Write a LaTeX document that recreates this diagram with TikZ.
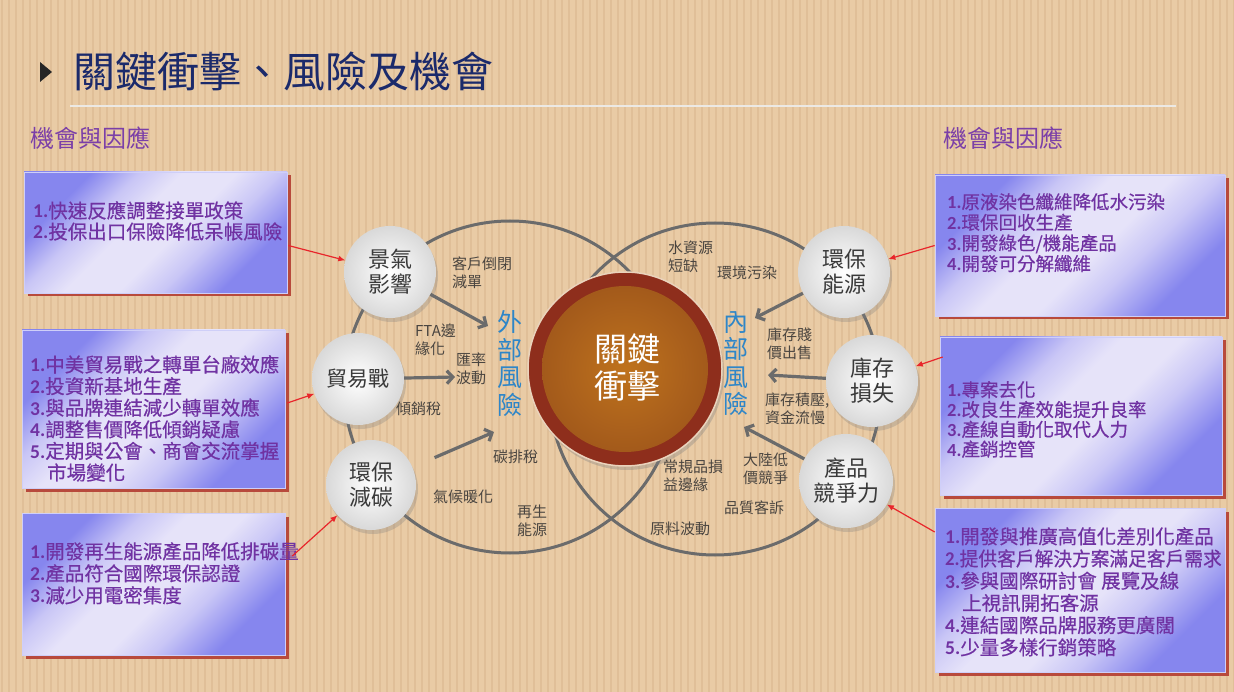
\documentclass[tikz,border=0pt]{standalone}
\usepackage{fontspec}
\setmainfont{Noto Sans CJK TC}
\newfontfamily\numfont{Carlito}
\newfontfamily\boxfont[FakeBold=0.5]{Noto Sans CJK TC}
\usetikzlibrary{arrows.meta,shadows,calc}
\definecolor{bgtan}{HTML}{E9CBA5}
\definecolor{stripe}{HTML}{D4AF86}
\definecolor{titleblue}{HTML}{1B2A6B}
\definecolor{purp}{HTML}{7032A2}
\definecolor{purplab}{HTML}{7B3FA8}
\definecolor{boxblue}{HTML}{8686EE}
\definecolor{boxpale}{HTML}{E6E3F9}
\definecolor{boxmid}{HTML}{C9C6F6}
\definecolor{boxshadow}{HTML}{B84A3C}
\definecolor{ringred}{HTML}{8E2E1C}
\definecolor{ringedge}{HTML}{EAD3BC}
\definecolor{coreorange}{HTML}{B9661F}
\definecolor{riskblue}{HTML}{2E86C8}
\definecolor{labgray}{HTML}{4A4540}
\definecolor{arrgray}{HTML}{6B6B6B}
\definecolor{redarr}{HTML}{E8262B}
\definecolor{nodetext}{HTML}{3A3A3A}
\definecolor{rulecol}{HTML}{ECE9E4}
\pgfdeclareverticalshading{boxshade}{100bp}{color(0bp)=(boxblue); color(27bp)=(boxblue); color(38bp)=(boxmid); color(46bp)=(boxpale); color(56bp)=(boxpale); color(64bp)=(boxmid); color(73bp)=(boxblue); color(100bp)=(boxblue)}
\newcommand\nmb[1]{{\numfont\bfseries #1}}
\begin{document}
\begin{tikzpicture}[x=1pt,y=-1pt,
  oppbox/.style={rectangle, inner sep=0, draw=white!60!boxblue, line width=0.6pt,
    shading=boxshade, shading angle=45,
    drop shadow={fill=boxshadow, opacity=1, shadow xshift=3.5pt, shadow yshift=-3.5pt}},
  boxtxt/.style={anchor=north west, inner sep=0, align=left, text=purp},
  riskcirc/.style={circle, minimum size=92pt, inner sep=0, inner color=white, outer color=black!15,
    drop shadow={opacity=0.3, shadow xshift=2pt, shadow yshift=-4pt},
    font=\fontsize{22}{25}\selectfont, text=nodetext, align=center},
  venn/.style={circle, draw=arrgray, line width=3pt, minimum size=332pt, inner sep=0},
  lab/.style={anchor=west, inner sep=0, align=left, text=labgray, font=\fontsize{15}{18}\selectfont},
  risk/.style={inner sep=0, align=center, text=riskblue, font=\fontsize{25}{27.5}\selectfont},
  grayarr/.style={draw=arrgray, line width=3.2pt, -{Straight Barb[length=6pt,width=13pt]}},
  redarrow/.style={draw=redarr, line width=1.2pt, -{Latex[length=7pt,width=6pt]}}
]
\useasboundingbox (0,0) rectangle (1234,692);
% background
\fill[bgtan] (0,0) rectangle (1234,692);
\foreach \i in {0,...,176} \draw[stripe, line width=2pt, opacity=0.4] ({\i*7+2},0) -- ({\i*7+2},692);
% title
\fill[black!85] (40,62) -- (52,72) -- (40,82) -- cycle;
\node[anchor=west, inner sep=0, text=titleblue, font=\fontsize{42}{46}\selectfont] (title) at (73,72) {關鍵衝擊、風險及機會};
\draw[rulecol, line width=2pt] (70,106) -- (1176,106);
\node[anchor=west, inner sep=0, text=purplab, font=\fontsize{24}{26}\selectfont] (ohL) at (30,138) {機會與因應};
\node[anchor=west, inner sep=0, text=purplab, font=\fontsize{24}{26}\selectfont] (ohR) at (943,138) {機會與因應};
% boxes
\node[oppbox, minimum width=263pt, minimum height=121pt] (b1) at (155.5,232.5) {};
\node[oppbox, minimum width=263pt, minimum height=158pt] (b2) at (153.5,409) {};
\node[oppbox, minimum width=263pt, minimum height=142pt] (b3) at (153.5,584) {};
\node[oppbox, minimum width=290pt, minimum height=141pt] (b4) at (1080,245.5) {};
\node[oppbox, minimum width=282pt, minimum height=158pt] (b5) at (1081,416) {};
\node[oppbox, minimum width=290pt, minimum height=164pt] (b6) at (1080,590) {};
\node[boxtxt, font=\boxfont\fontsize{19.5}{21}\selectfont] (t1) at (33,201) {\nmb{1.}快速反應調整接單政策\\\nmb{2.}投保出口保險降低呆帳風險};
\node[boxtxt, font=\boxfont\fontsize{19.5}{21.6}\selectfont] (t2) at (30,355) {\nmb{1.}中美貿易戰之轉單台廠效應\\\nmb{2.}投資新基地生產\\\nmb{3.}與品牌連結減少轉單效應\\\nmb{4.}調整售價降低傾銷疑慮\\\nmb{5.}定期與公會、商會交流掌握\\\hspace*{17pt}市場變化};
\node[boxtxt, font=\boxfont\fontsize{19.5}{22}\selectfont] (t3) at (30,542) {\nmb{1.}開發再生能源產品降低排碳量\\\nmb{2.}產品符合國際環保認證\\\nmb{3.}減少用電密集度};
\node[boxtxt, font=\boxfont\fontsize{18.5}{20.6}\selectfont] (t4) at (947,193) {\nmb{1.}原液染色纖維降低水污染\\\nmb{2.}環保回收生產\\\nmb{3.}開發綠色/機能產品\\\nmb{4.}開發可分解纖維};
\node[boxtxt, font=\boxfont\fontsize{18.5}{19.8}\selectfont] (t5) at (947,381) {\nmb{1.}專案去化\\\nmb{2.}改良生產效能提升良率\\\nmb{3.}產線自動化取代人力\\\nmb{4.}產銷控管};
\node[boxtxt, font=\boxfont\fontsize{19.5}{22.2}\selectfont] (t6) at (945,527) {\nmb{1.}開發與推廣高值化差別化產品\\\scalebox{0.96}[1]{\nmb{2.}提供客戶解決方案滿足客戶需求}\\\nmb{3.}參與國際研討會 展覽及線\\\hspace*{17pt}上視訊開拓客源\\\nmb{4.}連結國際品牌服務更廣闊\\\nmb{5.}少量多樣行銷策略};
% venn circles
\node[venn] (vL) at (510,387) {};
\node[venn] (vR) at (715,389) {};
% core
\node[circle, inner sep=0, minimum size=194pt, fill=ringred, draw=ringedge, line width=1.5pt,
  drop shadow={opacity=0.35, shadow xshift=2pt, shadow yshift=-4pt}] (core) at (625,369) {};
\node[circle, inner sep=0, minimum size=166pt, inner color=coreorange!92!yellow, outer color=coreorange!88!black] (coreIn) at (core.center) {};
\node[inner sep=0, align=center, text=white, font=\fontsize{33}{37}\selectfont] (coreTxt) at (627,367) {關鍵\\衝擊};
% risk labels
\node[risk] (ext) at (510,363.5) {外\\部\\風\\險};
\node[risk] (int) at (736,363.5) {內\\部\\風\\險};
% risk circles
\node[riskcirc] (jq) at (390,272) {景氣\\影響};
\node[riskcirc, font=\fontsize{21}{25}\selectfont] (my) at (358,379) {貿易戰};
\node[riskcirc, minimum size=90pt] (hj) at (371,485) {環保\\減碳};
\node[riskcirc] (hn) at (844,272) {環保\\能源};
\node[riskcirc] (kc) at (872,381) {庫存\\損失};
\node[riskcirc, minimum size=94pt] (cp) at (846,481) {產品\\競爭力};
% small labels
\node[lab] (l1) at (452,273) {客戶倒閉\\減單};
\node[lab] (l2) at (415,339.5) {FTA邊\\緣化};
\node[lab] (l3) at (456,369) {匯率\\波動};
\node[lab] (l4) at (396,409) {傾銷稅};
\node[lab] (l5) at (493,457) {碳排稅};
\node[lab] (l6) at (433,497) {氣候暖化};
\node[lab] (l7) at (517,521) {再生\\能源};
\node[lab] (l8) at (668,256.5) {水資源\\短缺};
\node[lab] (l9) at (717,273) {環境污染};
\node[lab] (l10) at (767,343.5) {庫存賤\\價出售};
\node[lab] (l11) at (765,408.5) {庫存積壓,\\資金流慢};
\node[lab] (l12) at (663,476) {常規品損\\益邊緣};
\node[lab] (l13) at (743,469) {大陸低\\價競爭};
\node[lab] (l14) at (724,508) {品質客訴};
\node[lab] (l15) at (650,529) {原料波動};
% gray arrows
\coordinate (a1) at (488,326);
\coordinate (a2) at (455,377);
\coordinate (a3) at (494,432);
\coordinate (a4) at (755,318);
\coordinate (a5) at (768,375);
\coordinate (a6) at (744,427);
\draw[grayarr] (jq) -- (a1);
\draw[grayarr] (my) -- (a2);
\draw[grayarr, shorten <=24pt] (hj) -- (a3);
\draw[grayarr] (hn) -- (a4);
\draw[grayarr] (kc) -- (a5);
\draw[grayarr] (cp) -- (a6);
% red arrows
\draw[redarrow] ($(b1.east)+(1,13)$) -- (jq);
\draw[redarrow] ($(b2.east)+(2,-6)$) -- (my);
\draw[redarrow] ($(b3.east)+(7,-28)$) -- (hj);
\draw[redarrow] ($(b4.west)+(0,0)$) -- (hn);
\draw[redarrow] ($(b5.west)+(3,-59)$) -- (kc);
\draw[redarrow] ($(b6.west)+(0,-58)$) -- (cp);
\end{tikzpicture}
\end{document}
